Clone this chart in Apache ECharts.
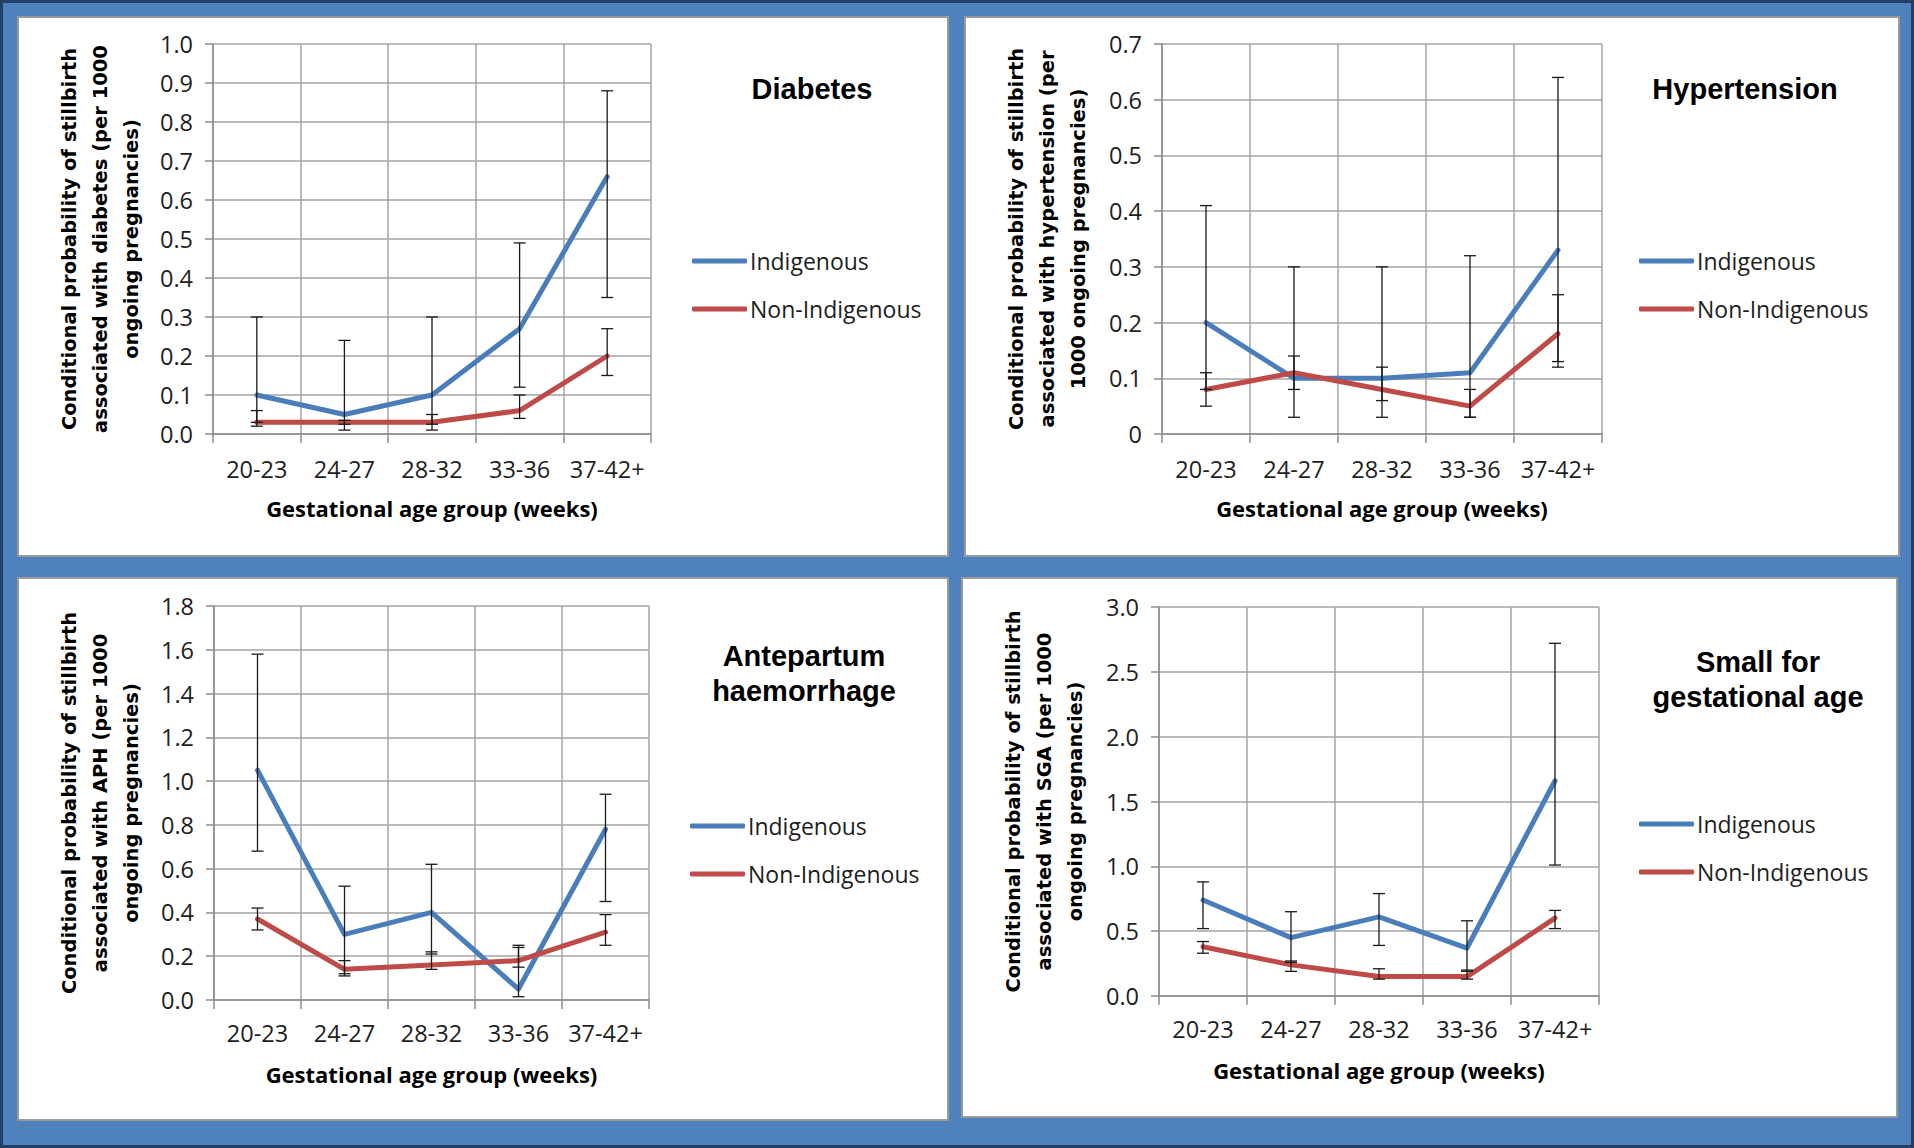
<!DOCTYPE html>
<html>
<head>
<meta charset="utf-8">
<script src="https://cdn.jsdelivr.net/npm/echarts@6/dist/echarts.min.js"></script>
<style>
html,body{margin:0;padding:0;background:#4F81BD;}
#page{position:relative;width:1914px;height:1148px;background:#4F81BD;overflow:hidden;}
.panel{position:absolute;background:#fff;box-sizing:border-box;border:2px solid #9a9a9a;}
#frame{position:absolute;left:0;top:0;width:1914px;height:1148px;box-sizing:border-box;border:3px solid #243F66;pointer-events:none;}
#chart{position:absolute;left:0;top:0;width:1914px;height:1148px;}
</style>
</head>
<body>
<div id="page">
  <div class="panel" style="left:17px;top:16px;width:932px;height:541px"></div>
  <div class="panel" style="left:964px;top:16px;width:936px;height:541px"></div>
  <div class="panel" style="left:17px;top:577px;width:932px;height:544px"></div>
  <div class="panel" style="left:961px;top:577px;width:937px;height:541px"></div>
  <div id="chart"></div>
  <div id="frame"></div>
</div>
<script>
// ---------- data ----------
const categories = ['20-23', '24-27', '28-32', '33-36', '37-42+'];
const seriesNames = ['Indigenous', 'Non-Indigenous'];

const diabetesIndigenous = [0.10, 0.05, 0.10, 0.27, 0.66];
const diabetesIndigenousLow = [0.03, 0.01, 0.01, 0.12, 0.35];
const diabetesIndigenousHigh = [0.30, 0.24, 0.30, 0.49, 0.88];
const diabetesNonIndigenous = [0.03, 0.03, 0.03, 0.06, 0.20];
const diabetesNonIndigenousLow = [0.02, 0.025, 0.025, 0.04, 0.15];
const diabetesNonIndigenousHigh = [0.06, 0.035, 0.05, 0.10, 0.27];
const diabetesTicks = ['0.0', '0.1', '0.2', '0.3', '0.4', '0.5', '0.6', '0.7', '0.8', '0.9', '1.0'];

const hypertensionIndigenous = [0.20, 0.10, 0.10, 0.11, 0.33];
const hypertensionIndigenousLow = [0.08, 0.03, 0.03, 0.03, 0.13];
const hypertensionIndigenousHigh = [0.41, 0.30, 0.30, 0.32, 0.64];
const hypertensionNonIndigenous = [0.08, 0.11, 0.08, 0.05, 0.18];
const hypertensionNonIndigenousLow = [0.05, 0.08, 0.06, 0.03, 0.12];
const hypertensionNonIndigenousHigh = [0.11, 0.14, 0.12, 0.08, 0.25];
const hypertensionTicks = ['0', '0.1', '0.2', '0.3', '0.4', '0.5', '0.6', '0.7'];

const aphIndigenous = [1.05, 0.30, 0.40, 0.05, 0.78];
const aphIndigenousLow = [0.68, 0.12, 0.21, 0.015, 0.45];
const aphIndigenousHigh = [1.58, 0.52, 0.62, 0.24, 0.94];
const aphNonIndigenous = [0.37, 0.14, 0.16, 0.18, 0.31];
const aphNonIndigenousLow = [0.32, 0.11, 0.14, 0.15, 0.25];
const aphNonIndigenousHigh = [0.42, 0.18, 0.22, 0.25, 0.39];
const aphTicks = ['0.0', '0.2', '0.4', '0.6', '0.8', '1.0', '1.2', '1.4', '1.6', '1.8'];

const sgaIndigenous = [0.74, 0.45, 0.61, 0.37, 1.66];
const sgaIndigenousLow = [0.52, 0.26, 0.39, 0.19, 1.01];
const sgaIndigenousHigh = [0.88, 0.65, 0.79, 0.58, 2.72];
const sgaNonIndigenous = [0.38, 0.24, 0.15, 0.15, 0.60];
const sgaNonIndigenousLow = [0.33, 0.19, 0.13, 0.13, 0.52];
const sgaNonIndigenousHigh = [0.42, 0.27, 0.21, 0.20, 0.66];
const sgaTicks = ['0.0', '0.5', '1.0', '1.5', '2.0', '2.5', '3.0'];

const panelTitles = ['Diabetes', 'Hypertension', 'Antepartum\nhaemorrhage', 'Small for\ngestational age'];
const yAxisTitles = [
  'Conditional probability of stillbirth\nassociated with diabetes (per 1000\nongoing pregnancies)',
  'Conditional probability of stillbirth\nassociated with hypertension (per\n1000 ongoing pregnancies)',
  'Conditional probability of stillbirth\nassociated with APH (per 1000\nongoing pregnancies)',
  'Conditional probability of stillbirth\nassociated with SGA (per 1000\nongoing pregnancies)'
];
const xAxisTitle = 'Gestational age group (weeks)';

// ---------- layout / style ----------
const BLUE = '#4A7EBB';
const RED = '#BE4B48';
const GRIDC = '#a3a3a3';
const panels = [
  { ticks: diabetesTicks, ind: diabetesIndigenous, indLo: diabetesIndigenousLow, indHi: diabetesIndigenousHigh,
    non: diabetesNonIndigenous, nonLo: diabetesNonIndigenousLow, nonHi: diabetesNonIndigenousHigh,
    grid: { left: 213, top: 44, width: 438, height: 390 }, yGap: 66, xLabelMargin: 24,
    title: { x: 812, y: 71 }, legend: { x: 692, y: 249 } },
  { ticks: hypertensionTicks, ind: hypertensionIndigenous, indLo: hypertensionIndigenousLow, indHi: hypertensionIndigenousHigh,
    non: hypertensionNonIndigenous, nonLo: hypertensionNonIndigenousLow, nonHi: hypertensionNonIndigenousHigh,
    grid: { left: 1162, top: 44, width: 440, height: 390 }, yGap: 68, xLabelMargin: 24,
    title: { x: 1745, y: 71 }, legend: { x: 1639, y: 249 } },
  { ticks: aphTicks, ind: aphIndigenous, indLo: aphIndigenousLow, indHi: aphIndigenousHigh,
    non: aphNonIndigenous, nonLo: aphNonIndigenousLow, nonHi: aphNonIndigenousHigh,
    grid: { left: 214, top: 606, width: 435, height: 394 }, yGap: 67, xLabelMargin: 22,
    title: { x: 804, y: 638 }, legend: { x: 690, y: 814 } },
  { ticks: sgaTicks, ind: sgaIndigenous, indLo: sgaIndigenousLow, indHi: sgaIndigenousHigh,
    non: sgaNonIndigenous, nonLo: sgaNonIndigenousLow, nonHi: sgaNonIndigenousHigh,
    grid: { left: 1159, top: 607, width: 440, height: 389 }, yGap: 68, xLabelMargin: 22,
    title: { x: 1758, y: 644 }, legend: { x: 1639, y: 812 } }
];

function errorRender(params, api) {
  const i = api.value(0);
  const lo = api.coord([i, api.value(1)]);
  const hi = api.coord([i, api.value(2)]);
  const w = 6;
  const style = { stroke: '#1a1a1a', lineWidth: 1.3, fill: null };
  return {
    type: 'group',
    children: [
      { type: 'line', shape: { x1: lo[0], y1: lo[1], x2: hi[0], y2: hi[1] }, style: style },
      { type: 'line', shape: { x1: lo[0] - w, y1: lo[1], x2: lo[0] + w, y2: lo[1] }, style: style },
      { type: 'line', shape: { x1: hi[0] - w, y1: hi[1], x2: hi[0] + w, y2: hi[1] }, style: style }
    ]
  };
}

const option = {
  animation: false,
  backgroundColor: 'transparent',
  title: [], legend: [], grid: [], xAxis: [], yAxis: [], series: []
};

panels.forEach(function (p, k) {
  const interval = parseFloat(p.ticks[1]);
  const maxV = parseFloat(p.ticks[p.ticks.length - 1]);
  option.grid.push(Object.assign({ containLabel: false }, p.grid));
  option.title.push({
    text: panelTitles[k], left: p.title.x, top: p.title.y, padding: 0,
    textAlign: 'center', textVerticalAlign: 'top',
    textStyle: { fontFamily: 'Liberation Sans, Arial, sans-serif', fontWeight: 'bold', fontSize: 29, lineHeight: 35, color: '#000' }
  });
  option.legend.push({
    data: seriesNames, orient: 'vertical', left: p.legend.x, top: p.legend.y, padding: 0,
    itemWidth: 55, itemHeight: 5, itemGap: 24, icon: 'roundRect', selectedMode: false,
    textStyle: { fontFamily: 'Open Sans, sans-serif', fontSize: 23, lineHeight: 24, color: '#1e1e1e', padding: [0, 0, 0, -2] }
  });
  option.xAxis.push({
    type: 'category', gridIndex: k, data: categories, boundaryGap: true,
    name: xAxisTitle, nameLocation: 'middle', nameGap: 63,
    nameTextStyle: { fontFamily: 'Open Sans, sans-serif', fontWeight: 'bold', fontSize: 22, lineHeight: 22, color: '#000' },
    axisLine: { show: true, lineStyle: { color: '#8c8c8c', width: 1.5 } },
    axisTick: { show: true, length: 9, alignWithLabel: false, lineStyle: { color: '#8c8c8c', width: 1.5 } },
    axisLabel: { margin: p.xLabelMargin, fontFamily: 'Open Sans, sans-serif', fontSize: 23.5, lineHeight: 22, color: '#1e1e1e', interval: 0 },
    splitLine: { show: true, lineStyle: { color: GRIDC, width: 1.5 } }
  });
  option.yAxis.push({
    type: 'value', gridIndex: k, min: 0, max: maxV, interval: interval,
    name: yAxisTitles[k], nameLocation: 'middle', nameRotate: 90, nameGap: p.yGap,
    nameTextStyle: { fontFamily: 'DejaVu Sans, Verdana, sans-serif', fontWeight: 'bold', fontSize: 19.5, lineHeight: 31, color: '#000', align: 'center' },
    axisLine: { show: true, lineStyle: { color: '#8c8c8c', width: 1.5 } },
    axisTick: { show: true, length: 8, lineStyle: { color: '#8c8c8c', width: 1.5 } },
    axisLabel: {
      margin: 20, fontFamily: 'Open Sans, sans-serif', fontSize: 23.5, color: '#1e1e1e',
      formatter: function (v) { return p.ticks[Math.round(v / interval)]; }
    },
    splitLine: { show: true, lineStyle: { color: GRIDC, width: 1.5 } }
  });
  option.series.push({
    name: seriesNames[0], type: 'line', xAxisIndex: k, yAxisIndex: k, data: p.ind,
    symbol: 'none', color: BLUE, lineStyle: { width: 5, color: BLUE, join: 'round', cap: 'round' }, z: 2
  });
  option.series.push({
    name: seriesNames[1], type: 'line', xAxisIndex: k, yAxisIndex: k, data: p.non,
    symbol: 'none', color: RED, lineStyle: { width: 5, color: RED, join: 'round', cap: 'round' }, z: 2
  });
  option.series.push({
    name: seriesNames[0] + ' CI', type: 'custom', xAxisIndex: k, yAxisIndex: k, z: 5,
    renderItem: errorRender, encode: { x: 0, y: [1, 2] },
    data: categories.map(function (c, i) { return [i, p.indLo[i], p.indHi[i]]; })
  });
  option.series.push({
    name: seriesNames[1] + ' CI', type: 'custom', xAxisIndex: k, yAxisIndex: k, z: 5,
    renderItem: errorRender, encode: { x: 0, y: [1, 2] },
    data: categories.map(function (c, i) { return [i, p.nonLo[i], p.nonHi[i]]; })
  });
});

const chart = echarts.init(document.getElementById('chart'), null, { renderer: 'svg', width: 1914, height: 1148 });
chart.setOption(option);
</script>
</body>
</html>
